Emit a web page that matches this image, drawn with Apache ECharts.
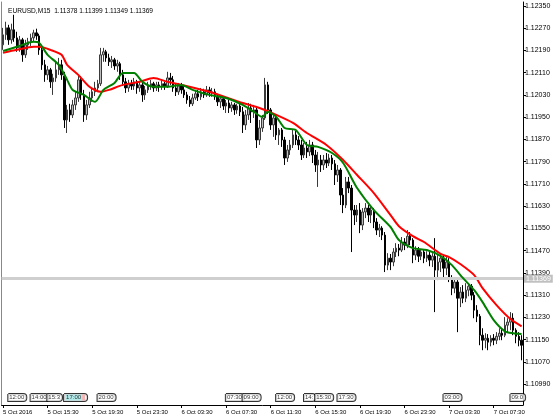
<!DOCTYPE html>
<html><head><meta charset="utf-8">
<script src="https://cdn.jsdelivr.net/npm/echarts@6/dist/echarts.min.js"></script>
<style>html,body{margin:0;padding:0;background:#fff}#c{width:560px;height:420px}</style>
</head><body><div id="c"></div>
<script>
// ---- data (EURUSD M15, 5 Oct 2016 11:30 onward) ----
const startTime = '2016-10-05T11:30:00Z';
const opens = [1.12210,1.12246,1.12271,1.12228,1.12264,1.12235,1.12199,1.12228,1.12174,1.12210,
1.12221,1.12235,1.12253,1.12242,1.12192,1.12138,1.12102,1.12120,1.12077,1.12091,
1.12120,1.12138,1.12098,1.11940,1.11976,1.11958,1.11994,1.12019,1.12084,1.12030,
1.11958,1.11994,1.12019,1.12041,1.12055,1.12070,1.12174,1.12185,1.12163,1.12149,
1.12156,1.12134,1.12142,1.12102,1.12077,1.12055,1.12070,1.12062,1.12077,1.12055,
1.12066,1.12030,1.12048,1.12062,1.12070,1.12055,1.12066,1.12059,1.12070,1.12062,
1.12091,1.12084,1.12055,1.12041,1.12062,1.12048,1.12030,1.12012,1.11998,1.12019,
1.12034,1.12023,1.12041,1.12030,1.12048,1.12037,1.12041,1.12023,1.12005,1.12016,
1.11990,1.12001,1.11983,1.11994,1.11976,1.11990,1.11969,1.11922,1.11958,1.11983,
1.11969,1.11976,1.11868,1.11911,1.11947,1.12066,1.11976,1.11922,1.11947,1.11886,
1.11904,1.11868,1.11803,1.11832,1.11850,1.11886,1.11868,1.11850,1.11814,1.11839,
1.11825,1.11850,1.11814,1.11778,1.11796,1.11778,1.11796,1.11785,1.11803,1.11782,
1.11742,1.11760,1.11670,1.11634,1.11717,1.11695,1.11616,1.11598,1.11616,1.11562,
1.11609,1.11623,1.11598,1.11616,1.11573,1.11544,1.11551,1.11526,1.11418,1.11443,
1.11429,1.11465,1.11479,1.11472,1.11501,1.11490,1.11522,1.11508,1.11454,1.11472,
1.11450,1.11465,1.11443,1.11454,1.11436,1.11450,1.11400,1.11429,1.11443,1.11407,
1.11429,1.11371,1.11335,1.11357,1.11299,1.11321,1.11299,1.11328,1.11342,1.11310,
1.11256,1.11234,1.11166,1.11148,1.11155,1.11141,1.11155,1.11148,1.11162,1.11173,
1.11166,1.11202,1.11213,1.11227,1.11184,1.11162,1.11148];
const closes = [1.12246,1.12271,1.12228,1.12264,1.12235,1.12199,1.12228,1.12174,1.12210,1.12221,
1.12235,1.12253,1.12242,1.12192,1.12138,1.12102,1.12120,1.12077,1.12091,1.12120,
1.12138,1.12102,1.11940,1.11976,1.11958,1.11994,1.12019,1.12084,1.12030,1.11958,
1.11994,1.12019,1.12041,1.12055,1.12070,1.12174,1.12185,1.12163,1.12149,1.12156,
1.12134,1.12142,1.12102,1.12077,1.12055,1.12070,1.12062,1.12077,1.12055,1.12066,
1.12030,1.12048,1.12062,1.12070,1.12055,1.12066,1.12059,1.12070,1.12062,1.12091,
1.12084,1.12055,1.12041,1.12062,1.12048,1.12030,1.12012,1.11998,1.12019,1.12034,
1.12023,1.12041,1.12030,1.12048,1.12037,1.12041,1.12023,1.12005,1.12016,1.11990,
1.12001,1.11983,1.11994,1.11976,1.11990,1.11969,1.11922,1.11958,1.11983,1.11969,
1.11976,1.11868,1.11911,1.11947,1.12066,1.11976,1.11922,1.11947,1.11886,1.11904,
1.11868,1.11803,1.11832,1.11850,1.11886,1.11868,1.11850,1.11814,1.11839,1.11825,
1.11850,1.11814,1.11778,1.11796,1.11778,1.11796,1.11785,1.11803,1.11782,1.11742,
1.11760,1.11670,1.11634,1.11717,1.11695,1.11616,1.11598,1.11616,1.11562,1.11609,
1.11623,1.11598,1.11616,1.11573,1.11544,1.11551,1.11526,1.11418,1.11443,1.11429,
1.11465,1.11479,1.11472,1.11501,1.11490,1.11522,1.11508,1.11454,1.11472,1.11450,
1.11465,1.11443,1.11454,1.11436,1.11450,1.11400,1.11429,1.11443,1.11407,1.11429,
1.11371,1.11335,1.11357,1.11299,1.11321,1.11299,1.11328,1.11342,1.11310,1.11256,
1.11234,1.11166,1.11148,1.11155,1.11141,1.11155,1.11148,1.11162,1.11173,1.11166,
1.11202,1.11213,1.11227,1.11184,1.11162,1.11148,1.11130];
const lows = [1.12192,1.12228,1.12210,1.12214,1.12221,1.12185,1.12185,1.12149,1.12163,1.12192,
1.12206,1.12221,1.12228,1.12174,1.12120,1.12077,1.12084,1.12055,1.12030,1.12077,
1.12102,1.12084,1.11911,1.11893,1.11933,1.11947,1.11976,1.12005,1.12012,1.11933,
1.11940,1.11983,1.12005,1.12026,1.12041,1.12062,1.12149,1.12149,1.12134,1.12127,
1.12120,1.12113,1.12084,1.12062,1.12037,1.12041,1.12048,1.12048,1.12034,1.12041,
1.12005,1.12012,1.12037,1.12048,1.12041,1.12044,1.12041,1.12048,1.12048,1.12055,
1.12066,1.12041,1.12026,1.12030,1.12034,1.12019,1.11998,1.11987,1.11990,1.12012,
1.12008,1.12012,1.12019,1.12023,1.12023,1.12023,1.12012,1.11990,1.11983,1.11976,
1.11965,1.11965,1.11969,1.11958,1.11962,1.11954,1.11893,1.11904,1.11940,1.11929,
1.11947,1.11839,1.11850,1.11897,1.11940,1.11962,1.11904,1.11879,1.11868,1.11850,
1.11843,1.11778,1.11789,1.11814,1.11839,1.11850,1.11832,1.11796,1.11803,1.11803,
1.11810,1.11785,1.11753,1.11699,1.11753,1.11760,1.11767,1.11774,1.11760,1.11706,
1.11717,1.11634,1.11605,1.11623,1.11677,1.11465,1.11562,1.11573,1.11533,1.11544,
1.11587,1.11573,1.11569,1.11551,1.11526,1.11519,1.11508,1.11393,1.11400,1.11400,
1.11414,1.11447,1.11450,1.11465,1.11472,1.11479,1.11490,1.11425,1.11436,1.11429,
1.11436,1.11425,1.11429,1.11414,1.11411,1.11249,1.11364,1.11393,1.11375,1.11382,
1.11357,1.11310,1.11317,1.11177,1.11267,1.11281,1.11285,1.11306,1.11292,1.11227,
1.11213,1.11130,1.11112,1.11119,1.11112,1.11126,1.11130,1.11134,1.11148,1.11148,
1.11159,1.11177,1.11184,1.11166,1.11137,1.11126,1.11076];
const highs = [1.12271,1.12293,1.12282,1.12286,1.12318,1.12257,1.12242,1.12235,1.12228,1.12235,
1.12250,1.12264,1.12268,1.12250,1.12206,1.12156,1.12134,1.12127,1.12106,1.12149,
1.12163,1.12156,1.12113,1.11994,1.11998,1.12012,1.12041,1.12102,1.12098,1.12048,
1.12012,1.12041,1.12055,1.12077,1.12084,1.12199,1.12199,1.12192,1.12178,1.12170,
1.12163,1.12156,1.12149,1.12120,1.12091,1.12084,1.12084,1.12091,1.12084,1.12077,
1.12073,1.12062,1.12077,1.12084,1.12077,1.12077,1.12077,1.12084,1.12077,1.12113,
1.12109,1.12098,1.12070,1.12073,1.12073,1.12062,1.12041,1.12026,1.12034,1.12048,
1.12048,1.12055,1.12052,1.12062,1.12059,1.12055,1.12052,1.12034,1.12026,1.12023,
1.12012,1.12012,1.12005,1.12001,1.11998,1.12001,1.11987,1.11976,1.12001,1.11998,
1.11994,1.11987,1.11940,1.11958,1.12091,1.12077,1.11983,1.11965,1.11958,1.11911,
1.11911,1.11879,1.11850,1.11868,1.11904,1.11900,1.11882,1.11868,1.11857,1.11861,
1.11868,1.11861,1.11832,1.11825,1.11814,1.11814,1.11821,1.11818,1.11814,1.11796,
1.11778,1.11767,1.11695,1.11735,1.11735,1.11706,1.11634,1.11634,1.11641,1.11623,
1.11641,1.11634,1.11627,1.11623,1.11587,1.11566,1.11558,1.11537,1.11461,1.11458,
1.11479,1.11497,1.11494,1.11519,1.11515,1.11544,1.11537,1.11515,1.11486,1.11483,
1.11476,1.11472,1.11468,1.11465,1.11461,1.11515,1.11454,1.11461,1.11454,1.11447,
1.11443,1.11382,1.11371,1.11364,1.11339,1.11346,1.11353,1.11353,1.11350,1.11321,
1.11274,1.11242,1.11191,1.11173,1.11170,1.11166,1.11170,1.11177,1.11191,1.11188,
1.11231,1.11227,1.11249,1.11245,1.11191,1.11177,1.11166];
// moving averages: [bar index, value]
const maRed = [[0,1.12181],[5,1.12192],[11,1.12203],[13,1.12203],[17,1.12192],[21,1.12174],[23,1.12138],[27,1.12102],[31,1.12059],[35,1.12041],[38,1.12048],[43,1.12066],[49,1.12077],[54,1.12091],[59,1.12077],[64,1.12066],[74,1.12041],[86,1.12001],[92,1.11983],[98,1.11958],[104,1.11929],[109,1.11893],[116,1.11850],[122,1.11796],[127,1.11742],[133,1.11677],[139,1.11598],[142,1.11558],[147,1.11522],[151,1.11501],[157,1.11458],[160,1.11447],[164,1.11422],[169,1.11382],[172,1.11335],[177,1.11274],[182,1.11224],[186,1.11198]];
const maGreen = [[0,1.12188],[5,1.12203],[11,1.12221],[13,1.12217],[16,1.12174],[20,1.12138],[23,1.12084],[25,1.12048],[29,1.12030],[33,1.12005],[36,1.12048],[40,1.12073],[43,1.12109],[47,1.12109],[50,1.12077],[54,1.12059],[59,1.12059],[64,1.12066],[68,1.12048],[74,1.12030],[80,1.12019],[86,1.11994],[90,1.11969],[93,1.11951],[95,1.11969],[98,1.11951],[101,1.11911],[105,1.11904],[109,1.11850],[113,1.11843],[118,1.11821],[122,1.11785],[127,1.11695],[133,1.11616],[139,1.11555],[142,1.11508],[147,1.11479],[152,1.11472],[157,1.11450],[161,1.11418],[165,1.11371],[169,1.11328],[172,1.11285],[176,1.11220],[180,1.11180],[183,1.11173],[186,1.11170]];
const priceTicks = [1.12350,1.12270,1.12190,1.12110,1.12030,1.11950,1.11870,1.11790,1.11710,1.11630,1.11550,1.11470,1.11390,1.11310,1.11230,1.11150,1.11070,1.10990];
const timeTicks = ['5 Oct 2016','5 Oct 15:30','5 Oct 19:30','5 Oct 23:30','6 Oct 03:30','6 Oct 07:30','6 Oct 11:30','6 Oct 15:30','6 Oct 19:30','6 Oct 23:30','7 Oct 03:30','7 Oct 07:30'];
const eventTimes = ['5 Oct 12:00','5 Oct 14:00','5 Oct 15:30','5 Oct 17:00','5 Oct 20:00','6 Oct 07:30','6 Oct 09:00','6 Oct 12:00','6 Oct 14:30','6 Oct 15:30','6 Oct 17:30','7 Oct 03:00','7 Oct 09:00'];
const eventTexts = ['12:00','14:00','15:3','17:00','20:00','07:30','09:00','12:00','14:','15:30','17:30','03:00','09:0'];
const bidPrice = 1.11369;
const titleText = 'EURUSD,M15  1.11378 1.11399 1.11349 1.11369';

// ---- build ----
const MON = ['Jan','Feb','Mar','Apr','May','Jun','Jul','Aug','Sep','Oct','Nov','Dec'];
const t0 = Date.parse(startTime);
const cats = opens.map((_, i) => {
  const d = new Date(t0 + i * 15 * 60000);
  return d.getUTCDate() + ' ' + MON[d.getUTCMonth()] + ' ' +
    String(d.getUTCHours()).padStart(2,'0') + ':' + String(d.getUTCMinutes()).padStart(2,'0');
});
const candles = opens.map((o, i) => [o, closes[i], lows[i], highs[i]]);
const FONT = 'Liberation Sans';
const tickEvery = 16;
const gridLeft = 1.3, gridRight = 37;

const eventData = eventTimes.map((t, k) => {
  const item = { value: [t, 0.5] };
  if (eventTexts[k] === '17:00') {
    item.label = { formatter: '{a|' + eventTexts[k] + '}{b| }' };
  }
  return item;
});

const chart = echarts.init(document.getElementById('c'), null, { renderer: 'canvas' });
chart.setOption({
  animation: false,
  backgroundColor: '#ffffff',
  title: { text: titleText, left: 3, top: 3, textStyle: { fontFamily: FONT, fontSize: 6.6, fontWeight: 'normal', color: '#000' } },
  grid: [
    { left: gridLeft, right: gridRight, top: 2, bottom: 15 },
    { left: gridLeft, right: gridRight, top: 393, height: 9 }
  ],
  xAxis: [
    { type: 'category', data: cats, gridIndex: 0, boundaryGap: true,
      axisLine: { show: true, lineStyle: { color: '#000', width: 1 } },
      axisTick: { show: true, alignWithLabel: true, length: 3, interval: (i) => i % tickEvery === 0, lineStyle: { color: '#000' } },
      axisLabel: { show: true, interval: (i) => i % tickEvery === 0, align: 'left', margin: 4,
        fontFamily: FONT, fontSize: 6, color: '#000',
        formatter: (v, i) => timeTicks[Math.round(i / tickEvery)] || '' },
      splitLine: { show: false } },
    { type: 'category', data: cats, gridIndex: 1, boundaryGap: true, show: false }
  ],
  yAxis: [
    { type: 'value', position: 'right', gridIndex: 0, min: 1.10915, max: 1.12364,
      axisLine: { show: true, onZero: false, lineStyle: { color: '#000', width: 1 } },
      axisTick: { show: true, length: 3, customValues: priceTicks, lineStyle: { color: '#000' } },
      axisLabel: { show: true, customValues: priceTicks, margin: 2, fontFamily: FONT, fontSize: 7, color: '#000',
        formatter: (v) => v.toFixed(5) },
      splitLine: { show: false } },
    { type: 'value', position: 'left', gridIndex: 0, min: 0, max: 1,
      axisLine: { show: true, onZero: false, lineStyle: { color: '#888', width: 1 } },
      axisTick: { show: false }, axisLabel: { show: false }, splitLine: { show: false } },
    { type: 'value', gridIndex: 1, min: 0, max: 1, show: false }
  ],
  series: [
    { type: 'line', name: 'bid', xAxisIndex: 0, yAxisIndex: 0, data: [], z: 1,
      markLine: { silent: true, symbol: 'none', animation: false, precision: 5,
        data: [{ yAxis: bidPrice }],
        lineStyle: { color: '#cfcfcf', width: 3, type: 'solid' },
        label: { show: true, position: 'end', distance: 1, formatter: bidPrice.toFixed(5),
          backgroundColor: '#c0c0c0', color: '#fff', fontFamily: FONT, fontSize: 7, padding: [1, 2, 0, 2] } } },
    { type: 'candlestick', name: 'EURUSD', xAxisIndex: 0, yAxisIndex: 0, data: candles,
      barWidth: 2, z: 2,
      itemStyle: { color: '#bdbdbd', color0: '#000000', borderColor: '#3a3a3a', borderColor0: '#000000', borderWidth: 1 } },
    { type: 'line', name: 'MA slow', xAxisIndex: 0, yAxisIndex: 0, data: maRed, showSymbol: false, smooth: 0.25,
      lineStyle: { color: '#ff0000', width: 2 }, z: 4 },
    { type: 'line', name: 'MA fast', xAxisIndex: 0, yAxisIndex: 0, data: maGreen, showSymbol: false, smooth: 0.25,
      lineStyle: { color: '#008000', width: 2 }, z: 5 },
    { type: 'scatter', name: 'events', xAxisIndex: 1, yAxisIndex: 2, data: eventData, symbolSize: 0, z: 6,
      label: { show: true, position: 'right', distance: 0,
        formatter: (p) => eventTexts[p.dataIndex],
        fontFamily: FONT, fontSize: 6, color: '#000', lineHeight: 7,
        backgroundColor: '#fff', borderColor: '#000', borderWidth: 1, borderRadius: [0, 3, 3, 0], padding: [0, 2, 0, 1],
        rich: { a: { fontFamily: FONT, fontSize: 6, color: '#000', backgroundColor: '#9fe3e3', lineHeight: 7, padding: [0, 1, 0, 1] },
                b: { backgroundColor: '#f4a0a0', width: 3, lineHeight: 7 } } } }
  ]
});
</script></body></html>
